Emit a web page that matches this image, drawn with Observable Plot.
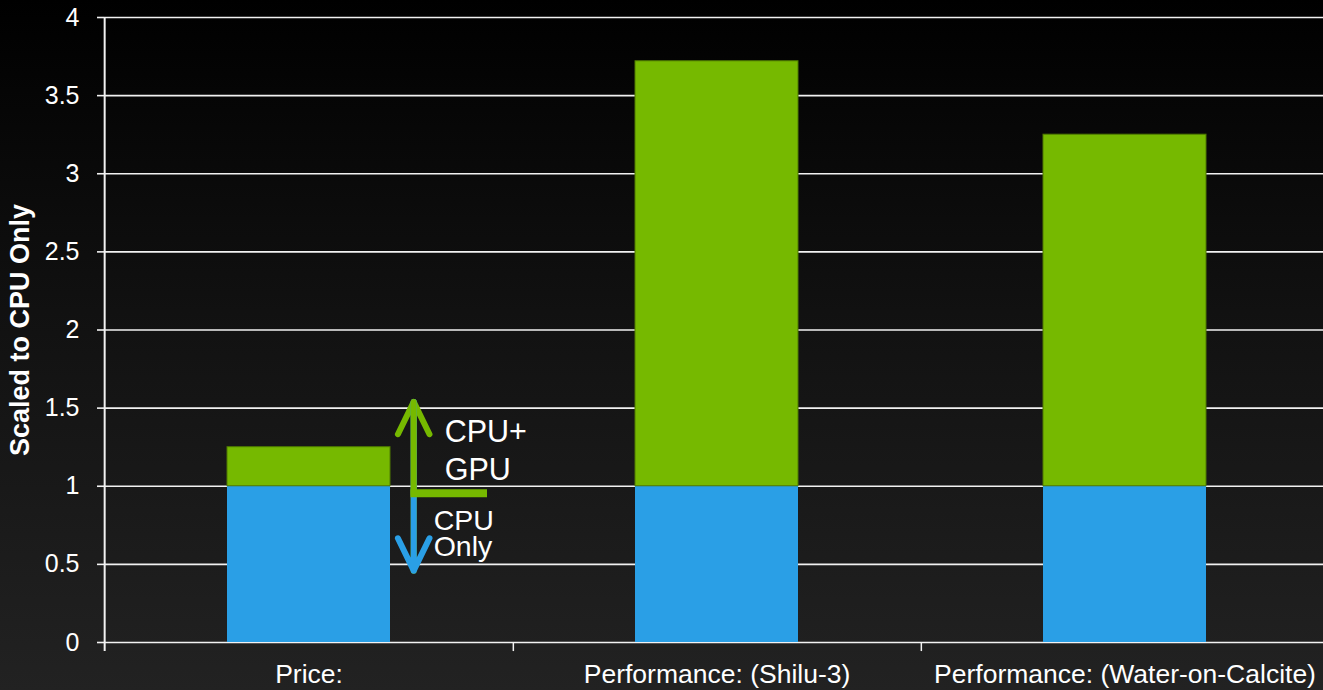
<!DOCTYPE html>
<html><head><meta charset="utf-8">
<script src="https://cdn.jsdelivr.net/npm/d3@7"></script>
<script src="https://cdn.jsdelivr.net/npm/@observablehq/plot@0.6"></script>
<style>
html,body{margin:0;padding:0;width:1323px;height:690px;overflow:hidden;background:linear-gradient(to bottom,#000 0%,#111 45%,#222 100%);}
#chart svg{display:block;font-family:"Liberation Sans",Arial,sans-serif;}
</style></head><body><div id="chart"></div>
<script>
// ---- data ----
const categories = ["Price:", "Performance: (Shilu-3)", "Performance: (Water-on-Calcite)"];
const cpuOnly = [1, 1, 1];
const cpuGpu = [1.25, 3.72, 3.25];
const yTicks = [0, 0.5, 1, 1.5, 2, 2.5, 3, 3.5, 4];
const yLabel = "Scaled to CPU Only";
const seriesNames = ["CPU Only", "CPU+GPU"];
const seriesColors = ["#2a9fe6", "#76b900"];
// key drawn beside the first bar
const keyCategory = "Price:";
const keyArrow = {top: 1.54, join: 0.95, bottom: 0.46, joinLine: 0.955};
const keyGpuText = {text: "CPU+\nGPU", y: 1.24};
const keyCpuText = {text: "CPU\nOnly", y: 0.69};

// ---- layout ----
const W = 1323, H = 690, ML = 104, MR = -7, MT = 17, MB = 48;
const step = (W - ML - MR) / categories.length;
const font = "Liberation Sans, Arial, sans-serif";

const rows = categories.flatMap((c, i) => [
  {category: c, series: seriesNames[0], y1: 0, y2: cpuOnly[i]},
  {category: c, series: seriesNames[1], y1: cpuOnly[i], y2: cpuGpu[i]}
]);

const arrowX = 104.7; // offset of key from band centre (px)

const chart = Plot.plot({
  width: W, height: H,
  marginLeft: ML, marginRight: MR, marginTop: MT, marginBottom: MB,
  style: {background: "transparent", color: "#fff", fontFamily: font, overflow: "visible"},
  x: {domain: categories, range: [ML, W - MR], paddingInner: 0.6, paddingOuter: 0.3, label: null},
  y: {domain: [0, 4], label: null},
  marks: [
    Plot.gridY(yTicks, {stroke: "#f2f2f2", strokeOpacity: 1, strokeWidth: 1.6}),
    Plot.barY(rows.filter(d => d.series === seriesNames[0]), {x: "category", y1: "y1", y2: "y2", fill: seriesColors[0]}),
    Plot.barY(rows.filter(d => d.series === seriesNames[1]), {x: "category", y1: "y1", y2: "y2", fill: seriesColors[1], stroke: "#4e7a00", strokeWidth: 1}),
    Plot.axisY({ticks: yTicks, tickSize: 7, tickPadding: 18, fontSize: 25, stroke: "#f2f2f2", strokeWidth: 1.6, label: null, tickFormat: d => String(d)}),
    Plot.axisX({tickSize: 0, tickPadding: 22, fontSize: 26.5, label: null}),
    // left axis line and category boundary ticks
    Plot.ruleX([categories[0]], {x: d => d, dx: -step / 2, y1: 4, y2: -0.058, stroke: "#f2f2f2", strokeWidth: 2}),
    Plot.ruleX(categories.slice(0, -1), {x: d => d, dx: step / 2, y1: 0, y2: -0.058, stroke: "#f2f2f2", strokeWidth: 1.5}),
    // key arrows
    Plot.arrow([keyArrow], {x1: () => keyCategory, x2: () => keyCategory, y1: "bottom", y2: "top", dx: arrowX,
      stroke: seriesColors[1], strokeWidth: 6, headLength: 9, headAngle: 52, strokeLinecap: "round", strokeLinejoin: "round"}),
    Plot.arrow([keyArrow], {x1: () => keyCategory, x2: () => keyCategory, y1: "top", y2: "bottom", dx: arrowX,
      stroke: seriesColors[0], strokeWidth: 6, headLength: 9, headAngle: 52, strokeLinecap: "round", strokeLinejoin: "round"}),
    Plot.link([keyArrow], {x1: () => keyCategory, x2: () => keyCategory, y1: "join", y2: "top", dx: arrowX,
      stroke: seriesColors[1], strokeWidth: 6, strokeLinecap: "round"}),
    Plot.tickY([keyArrow], {x: () => keyCategory, y: "joinLine", dx: 183.4, insetRight: 86.4,
      stroke: seriesColors[1], strokeWidth: 8}),
    Plot.text([keyGpuText], {x: () => keyCategory, y: "y", text: "text", dx: 135.7, textAnchor: "start",
      fontSize: 30.5, lineHeight: 1.25, fill: "#fff"}),
    Plot.text([keyCpuText], {x: () => keyCategory, y: "y", text: "text", dx: 124.7, textAnchor: "start",
      fontSize: 28.5, lineHeight: 0.92, fill: "#fff"}),
    // y axis title
    Plot.text([yLabel], {frameAnchor: "left", textAnchor: "middle", rotate: -90, dx: -84, text: d => d,
      fontSize: 27, fontWeight: "bold", fill: "#fff"})
  ]
});
document.getElementById("chart").appendChild(chart);
</script></body></html>
